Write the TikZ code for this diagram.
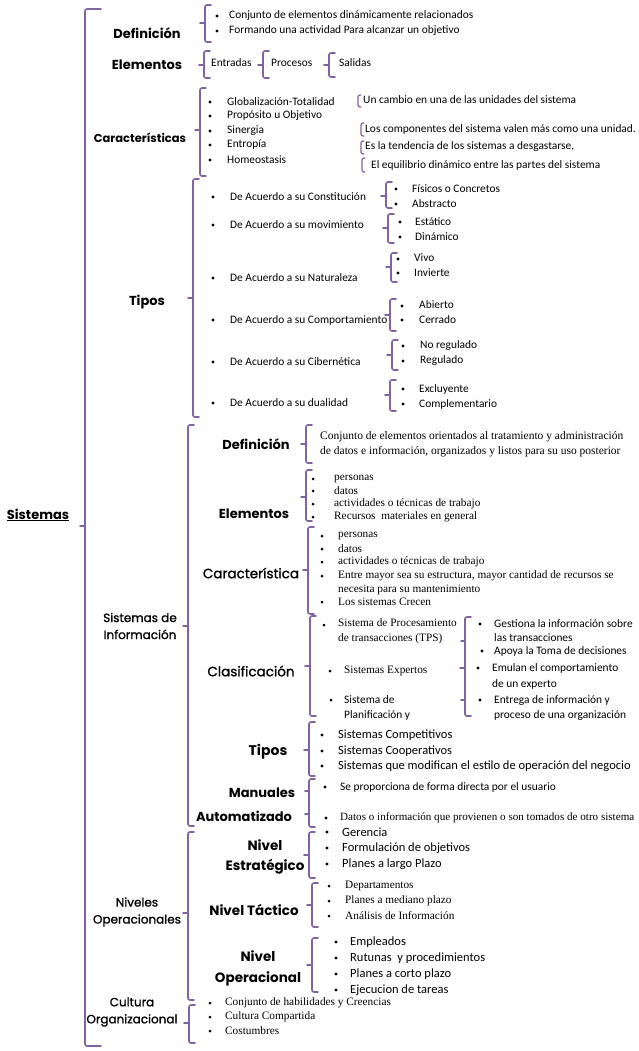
\documentclass[tikz,border=0pt]{standalone}
\usepackage{fontspec}
\setmainfont{Carlito}
\newfontfamily\comic{Poppins}
\newfontfamily\comicm{Poppins}[FakeBold=1.2]
\newfontfamily\serifa{Liberation Serif}
\usetikzlibrary{positioning}
\definecolor{morado}{RGB}{128,100,162}

% llave: [gancho]{x}{arriba}{abajo}{punta}
\newcommand{\llave}[5][6]{\draw[llv] (#2+#1,#3) -- (#2,#3) -- (#2,#4) -- (#2+#1,#4); \draw[llv] (#2,#5) -- (#2-5,#5);}

\begin{document}
\begin{tikzpicture}[x=1pt,y=-1pt,
  llv/.style={draw=morado,line width=1.6pt,rounded corners=2pt,line cap=round},
  tit/.style={font=\comic\bfseries\fontsize{13}{15}\selectfont,align=center,inner sep=0pt},
  sub/.style={font=\comicm\fontsize{12}{17}\selectfont,align=center,inner sep=0pt},
  txt/.style={anchor=west,inner sep=0pt,align=left,font=\fontsize{11.4}{14}\selectfont},
  srf/.style={txt,font=\serifa\fontsize{11.3}{15}\selectfont}]
\useasboundingbox[fill=white] (0,0) rectangle (638,1051);
\clip (0,0) rectangle (638,1051);

% raiz
\llave[16]{85}{9}{1046}{526}
\node[tit] (sis) at (38,515) {\underline{Sistemas}};

% Definicion
\llave{205}{5}{42}{23}
\node[tit] (def) at (147,33) {Definición};
\foreach \y in {16,31} \fill (217,\y) circle (1.6);
\node[txt] (def1) at (229,16) {Conjunto de elementos dinámicamente relacionados};
\node[txt] (def2) at (229,31) {Formando una actividad Para alcanzar un objetivo};

% Elementos
\llave{204}{51}{78}{65}
\llave{263}{51}{78}{65}
\llave{329}{53}{77}{65}
\node[tit] (ele) at (147,65) {Elementos};
\node[txt] (ent) at (211,63) {Entradas};
\node[txt] (pro) at (271,63) {Procesos};
\node[txt] (sal) at (339,63) {Salidas};

% Caracteristicas
\llave{200}{88}{176}{130}
\node[tit,font=\comic\bfseries\fontsize{11.5}{14}\selectfont] (car) at (140,138) {Características};
\foreach \y in {102,116,131,145,160} \fill (210,\y) circle (1.6);
\node[txt] (car1) at (227,102) {Globalización-Totalidad};
\node[txt] (car2) at (227,116) {Propósito u Objetivo};
\node[txt] (car3) at (227,131) {Sinergia};
\node[txt] (car4) at (227,145) {Entropía};
\node[txt] (car5) at (227,160) {Homeostasis};
\draw[llv,line width=1.2pt] (361,95) -- (358,95) -- (358,107) -- (361,107);
\draw[llv,line width=1.2pt] (364,123) -- (361,123) -- (361,136) -- (364,136);
\draw[llv,line width=1.2pt] (364,141) -- (361,141) -- (361,154) -- (364,154);
\draw[llv,line width=1.2pt] (365,158) -- (362,158) -- (362,172) -- (365,172);
\node[txt] (glo) at (363,100) {Un cambio en una de las unidades del sistema};
\node[txt] (sin) at (365,129) {Los componentes del sistema valen más como una unidad.};
\node[txt] (ent2) at (365,147) {Es la tendencia de los sistemas a desgastarse,};
\node[txt] (hom) at (371,165) {El equilibrio dinámico entre las partes del sistema};

% Tipos
\llave{193}{179}{417}{298}
\node[tit] (tip) at (147,302) {Tipos};
\foreach \y in {197,225,278,320,362,403} \fill (213,\y) circle (1.6);
\node[txt] (t1) at (230,197) {De Acuerdo a su Constitución};
\node[txt] (t2) at (230,225) {De Acuerdo a su movimiento};
\node[txt] (t3) at (230,278) {De Acuerdo a su Naturaleza};
\node[txt] (t4) at (230,320) {De Acuerdo a su Comportamiento};
\node[txt] (t5) at (230,362) {De Acuerdo a su Cibernética};
\node[txt] (t6) at (230,403) {De Acuerdo a su dualidad};
\llave{386}{182}{208}{196}
\foreach \y in {189,204} \fill (396,\y) circle (1.6);
\node[txt] (t1a) at (412,189) {Físicos o Concretos};
\node[txt] (t1b) at (412,204) {Abstracto};
\llave{388}{214}{243}{228}
\foreach \y in {222,237} \fill (400,\y) circle (1.6);
\node[txt] (t2a) at (415,222) {Estático};
\node[txt] (t2b) at (415,237) {Dinámico};
\llave{391}{253}{282}{267}
\foreach \y in {259,273} \fill (398,\y) circle (1.6);
\node[txt] (t3a) at (414,258) {Vivo};
\node[txt] (t3b) at (414,273) {Invierte};
\llave{390}{299}{331}{315}
\foreach \y in {306,320} \fill (402,\y) circle (1.6);
\node[txt] (t4a) at (419,305) {Abierto};
\node[txt] (t4b) at (419,320) {Cerrado};
\llave{392}{340}{370}{355}
\foreach \y in {346,361} \fill (403,\y) circle (1.6);
\node[txt] (t5a) at (420,346) {No regulado};
\node[txt] (t5b) at (420,361) {Regulado};
\llave{390}{380}{411}{395}
\foreach \y in {389,404} \fill (403,\y) circle (1.6);
\node[txt] (t6a) at (419,389) {Excluyente};
\node[txt] (t6b) at (419,404) {Complementario};

% Sistemas de Informacion
\llave{188}{425}{826}{626}
\node[sub] (si) at (140,626) {Sistemas de\\Información};
\llave{306}{425}{463}{444}
\node[tit] (sidef) at (256,444) {Definición};
\node[srf,font=\serifa\fontsize{11.5}{15}\selectfont] (sidef1) at (320,444) {Conjunto de elementos orientados al tratamiento y administración\\de datos e información, organizados y listos para su uso posterior};
\llave{306}{470}{521}{497}
\node[tit] (siele) at (254,514) {Elementos};
\foreach \y in {479,491,504,517} \fill (313,\y) circle (1.5);
\node[srf] (siele1) at (334,479) {personas};
\node[srf] (siele2) at (334,491) {datos};
\node[srf] (siele3) at (334,504) {actividades o técnicas de trabajo};
\node[srf] (siele4) at (334,517) {Recursos\ \ materiales en general};
\llave{308}{527}{614}{570}
\node[sub,font=\comicm\fontsize{13.5}{15}\selectfont] (sicar) at (251,573) {Característica};
\foreach \y in {536,549,562,576,602} \fill (322,\y) circle (1.5);
\node[srf] (sicar1) at (338,536) {personas};
\node[srf] (sicar2) at (338,549) {datos};
\node[srf] (sicar3) at (338,562) {actividades o técnicas de trabajo};
\node[srf,font=\serifa\fontsize{11.3}{14}\selectfont] (sicar4) at (338,583) {Entre mayor sea su estructura, mayor cantidad de recursos se\\necesita para su mantenimiento};
\node[srf] (sicar5) at (338,602) {Los sistemas Crecen};

% Clasificacion
\llave{310}{616}{716}{666}
\node[sub,font=\comicm\fontsize{13.5}{15}\selectfont] (cla) at (251,671) {Clasificación};
\fill (324,625) circle (1.5) (330,671) circle (1.5) (331,700) circle (1.5);
\node[srf] (tps) at (338,631) {Sistema de Procesamiento\\de transacciones (TPS)};
\node[srf] (exp) at (344,671) {Sistemas Expertos};
\node[txt,font=\fontsize{11.4}{15}\selectfont] (pla) at (344,708) {Sistema de\\Planificación y};
\draw[llv] (471,617) -- (465,617) -- (465,716) -- (471,716);
\draw[llv] (465,641) -- (461,641) (465,668) -- (460,668) (465,700) -- (461,700);
\fill (480,624) circle (1.6) (482,651) circle (1.6) (478,668) circle (1.6) (480,700) circle (1.6);
\node[txt] (tps1) at (494,631) {Gestiona la información sobre\\las transacciones};
\node[txt] (tps2) at (494,651) {Apoya la Toma de decisiones};
\node[txt,font=\fontsize{11.4}{16}\selectfont] (exp1) at (492,676) {Emulan el comportamiento\\de un experto};
\node[txt,font=\fontsize{11.4}{15}\selectfont] (pla1) at (494,708) {Entrega de información y\\proceso de una organización};

% Tipos SI
\llave{309}{722}{776}{750}
\node[tit,font=\comic\bfseries\fontsize{14}{15}\selectfont] (sitip) at (268,752) {Tipos};
\foreach \y in {735,751,766} \fill (322,\y) circle (1.6);
\node[txt,font=\fontsize{12.5}{14}\selectfont] (sitip1) at (338,735) {Sistemas Competitivos};
\node[txt,font=\fontsize{12.5}{14}\selectfont] (sitip2) at (338,751) {Sistemas Cooperativos};
\node[txt,font=\fontsize{12.5}{14}\selectfont] (sitip3) at (338,766) {Sistemas que modifican el estilo de operación del negocio};

% Manuales / Automatizado
\draw[llv] (315,779) -- (309,779) -- (309,827) -- (315,827);
\draw[llv] (309,791) -- (305,791) (309,814) -- (305,814);
\node[tit] (man) at (262,793) {Manuales};
\node[tit] (aut) at (244,816) {Automatizado};
\fill (325,787) circle (1.6) (326,818) circle (1.6);
\node[txt] (man1) at (340,787) {Se proporciona de forma directa por el usuario};
\node[srf,font=\serifa\fontsize{11.1}{15}\selectfont] (aut1) at (340,818) {Datos o información que provienen o son tomados de otro sistema};

% Niveles Operacionales
\llave{188}{832}{1000}{913}
\node[sub] (niv) at (137,912) {Niveles\\Operacionales};
\llave{309}{832}{878}{855}
\node[tit,font=\comic\bfseries\fontsize{13.5}{20}\selectfont] (est) at (265,857) {Nivel\\Estratégico};
\foreach \y in {832,848,864} \fill (327,\y) circle (1.6);
\node[txt,font=\fontsize{12.5}{14}\selectfont] (est1) at (342,832) {Gerencia};
\node[txt,font=\fontsize{12.5}{14}\selectfont] (est2) at (342,848) {Formulación de objetivos};
\node[txt,font=\fontsize{12.5}{14}\selectfont] (est3) at (342,864) {Planes a largo Plazo};
\llave{312}{883}{927}{905}
\node[tit,font=\comic\bfseries\fontsize{13.5}{15}\selectfont] (tac) at (254,910) {Nivel Táctico};
\foreach \y in {886,901,916} \fill (329,\y) circle (1.5);
\node[srf] (tac1) at (345,886) {Departamentos};
\node[srf] (tac2) at (345,901) {Planes a mediano plazo};
\node[srf] (tac3) at (345,916) {Análisis de Información};
\llave{312}{938}{992}{965}
\node[tit,font=\comic\bfseries\fontsize{13.5}{21}\selectfont] (ope) at (258,968) {Nivel\\Operacional};
\foreach \y in {942,958,974,990} \fill (336,\y) circle (1.6);
\node[txt,font=\fontsize{12.5}{14}\selectfont] (ope1) at (350,942) {Empleados};
\node[txt,font=\fontsize{12.5}{14}\selectfont] (ope2) at (350,958) {Rutunas\ \ y procedimientos};
\node[txt,font=\fontsize{12.5}{14}\selectfont] (ope3) at (350,974) {Planes a corto plazo};
\node[txt,font=\fontsize{12.5}{14}\selectfont] (ope4) at (350,990) {Ejecucion de tareas};

% Cultura Organizacional
\llave{189}{1005}{1043}{1023}
\node[sub] (cul) at (132,1012) {Cultura\\Organizacional};
\foreach \y in {1003,1017,1031} \fill (210,\y) circle (1.5);
\node[srf] (cul1) at (225,1003) {Conjunto de habilidades y Creencias};
\node[srf] (cul2) at (225,1017) {Cultura Compartida};
\node[srf] (cul3) at (225,1031) {Costumbres};
\end{tikzpicture}
\end{document}
